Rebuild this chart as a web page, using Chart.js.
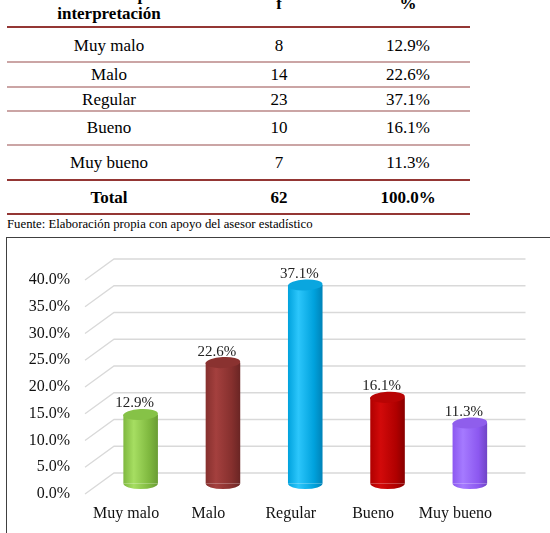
<!DOCTYPE html>
<html>
<head>
<meta charset="utf-8">
<script src="https://cdn.jsdelivr.net/npm/chart.js@4"></script>
<style>
  body { margin: 0; width: 550px; height: 533px; overflow: hidden; background: #fff; position: relative;
         font-family: "Liberation Serif", "Times New Roman", serif; color: #000; }
  .cell { position: absolute; width: 200px; text-align: center; font-size: 17px; height: 20px; line-height: 20px; white-space: nowrap; }
  .bold { font-weight: bold; }
  .rule { position: absolute; left: 7px; width: 463px; }
  .dark { height: 2px; background: #943634; }
  .light { height: 2px; background: #cba5a5; }
  #fuente { position: absolute; left: 7px; top: 216px; font-size: 12.75px; line-height: 16px; white-space: nowrap; }
  #box { position: absolute; left: 6px; top: 237px; width: 600px; height: 400px; border: 1.5px solid #404040; }
  #chart { position: absolute; left: 0; top: 0; }
</style>
</head>
<body>
<div id="table"></div>
<div id="fuente">Fuente: Elaboración propia con apoyo del asesor estadístico</div>
<div id="box"></div>
<canvas id="chart" width="550" height="533"></canvas>
<script>
// Datos de la tabla y del gráfico
const categories = ['Muy malo', 'Malo', 'Regular', 'Bueno', 'Muy bueno'];
const frequencies = [8, 14, 23, 10, 7];
const percentages = [12.9, 22.6, 37.1, 16.1, 11.3];
const totalLabel = ['Total', '62', '100.0%'];
const headerLabels = ['interpretación', 'f', '%'];
const yTicks = [0, 5, 10, 15, 20, 25, 30, 35, 40];

const barColors = [
    ['#7fb83f', '#a6de62', '#6a9c34'],
    ['#86302e', '#a4403e', '#6a2524'],
    ['#00a2dd', '#2cc6fb', '#0083b8'],
    ['#b00000', '#d20a0a', '#880000'],
    ['#8c58f0', '#a57aff', '#6f44c6']
];
const capColors = ['#86c247', '#8a3230', '#0aa6df', '#b80404', '#8f5eec'];

// Table
const table = document.getElementById('table');
const colCenters = [109, 279, 408];
const rowCenters = [45.5, 75, 99.5, 128, 163];

function addCell(text, cx, cy, bold) {
    const d = document.createElement('div');
    d.className = 'cell' + (bold ? ' bold' : '');
    d.style.left = (cx - 100) + 'px';
    d.style.top = (cy - 10) + 'px';
    d.textContent = text;
    table.appendChild(d);
}
function addRule(y, cls) {
    const d = document.createElement('div');
    d.className = 'rule ' + cls;
    d.style.top = y + 'px';
    table.appendChild(d);
}

addCell('Calificación para', colCenters[0], -5, true);
addCell(headerLabels[0], colCenters[0], 14, true);
addCell(headerLabels[1], colCenters[1], 4, true);
addCell(headerLabels[2], colCenters[2], 4, true);

categories.forEach(function(cat, i) {
    addCell(cat, colCenters[0], rowCenters[i]);
    addCell(String(frequencies[i]), colCenters[1], rowCenters[i]);
    addCell(percentages[i].toFixed(1) + '%', colCenters[2], rowCenters[i]);
});
totalLabel.forEach(function(t, j) { addCell(t, colCenters[j], 197.5, true); });

addRule(26, 'dark');
[61, 86, 110, 144].forEach(function(y) { addRule(y, 'light'); });
addRule(179, 'dark');
addRule(213, 'dark');

// 3D offsets (front -> back wall)
const DX = 29, DY = -21;

function barGradient(context) {
    const chart = context.chart;
    const i = context.dataIndex;
    const c = barColors[i];
    if (!chart.chartArea || !chart.scales.x) return c[0];
    const xs = chart.scales.x;
    const cx = xs.getPixelForValue(i);
    const hw = xs.width / categories.length * 0.42 / 2;
    const g = chart.ctx.createLinearGradient(cx - hw, 0, cx + hw, 0);
    g.addColorStop(0, c[0]);
    g.addColorStop(0.3, c[1]);
    g.addColorStop(0.75, c[0]);
    g.addColorStop(1, c[2]);
    return g;
}

const cylinderPlugin = {
    id: 'cylinder3d',
    beforeDatasetsDraw(chart) {
        const ctx = chart.ctx;
        const a = chart.chartArea;
        const y = chart.scales.y;
        ctx.save();
        ctx.strokeStyle = '#d9d9d9';
        ctx.lineWidth = 1.3;
        y.ticks.forEach(function(t) {
            const py = y.getPixelForValue(t.value);
            ctx.beginPath();
            ctx.moveTo(a.left, py);
            ctx.lineTo(a.left + DX, py + DY);
            ctx.lineTo(a.right + DX, py + DY);
            ctx.stroke();
        });
        ctx.restore();
        ctx.save();
        ctx.translate(DX / 2, DY / 2);
    },
    afterDatasetsDraw(chart) {
        const ctx = chart.ctx;
        const meta = chart.getDatasetMeta(0);
        meta.data.forEach(function(bar, i) {
            const rx = bar.width / 2, ry = 5.5;
            ctx.fillStyle = barGradient({ chart: chart, dataIndex: i });
            ctx.beginPath();
            ctx.ellipse(bar.x, bar.base, rx, ry, 0, 0, Math.PI);
            ctx.fill();
            ctx.fillStyle = capColors[i];
            ctx.beginPath();
            ctx.ellipse(bar.x, bar.y, rx, ry, -0.05, 0, Math.PI * 2);
            ctx.fill();
            ctx.fillStyle = '#222';
            ctx.font = '15px "Liberation Serif"';
            ctx.textAlign = 'center';
            ctx.textBaseline = 'middle';
            ctx.fillText(percentages[i].toFixed(1) + '%', bar.x - 6, bar.y - 11);
        });
        ctx.restore();
    }
};

new Chart(document.getElementById('chart'), {
    type: 'bar',
    data: {
        labels: categories,
        datasets: [{
            data: percentages,
            backgroundColor: barGradient,
            borderWidth: 0,
            barPercentage: 0.42,
            categoryPercentage: 1,
            clip: false
        }]
    },
    options: {
        responsive: false,
        animation: false,
        layout: { padding: { top: 280, right: 53.5, left: 0, bottom: 0 } },
        plugins: { legend: { display: false }, tooltip: { enabled: false } },
        scales: {
            x: {
                grid: { display: false, drawTicks: false },
                border: { display: false },
                ticks: { color: '#111', padding: 10, font: { family: 'Liberation Serif', size: 16 } },
                afterFit: function(s) { s.height = 39; }
            },
            y: {
                min: 0,
                max: 40,
                afterBuildTicks: function(s) { s.ticks = yTicks.map(function(v) { return { value: v }; }); },
                grid: { display: false, drawTicks: false },
                border: { display: false },
                ticks: {
                    color: '#111', padding: 15,
                    font: { family: 'Liberation Serif', size: 16 },
                    callback: function(v) { return v.toFixed(1) + '%'; }
                },
                afterFit: function(s) { s.width = 85; }
            }
        }
    },
    plugins: [cylinderPlugin]
});
</script>
</body>
</html>
